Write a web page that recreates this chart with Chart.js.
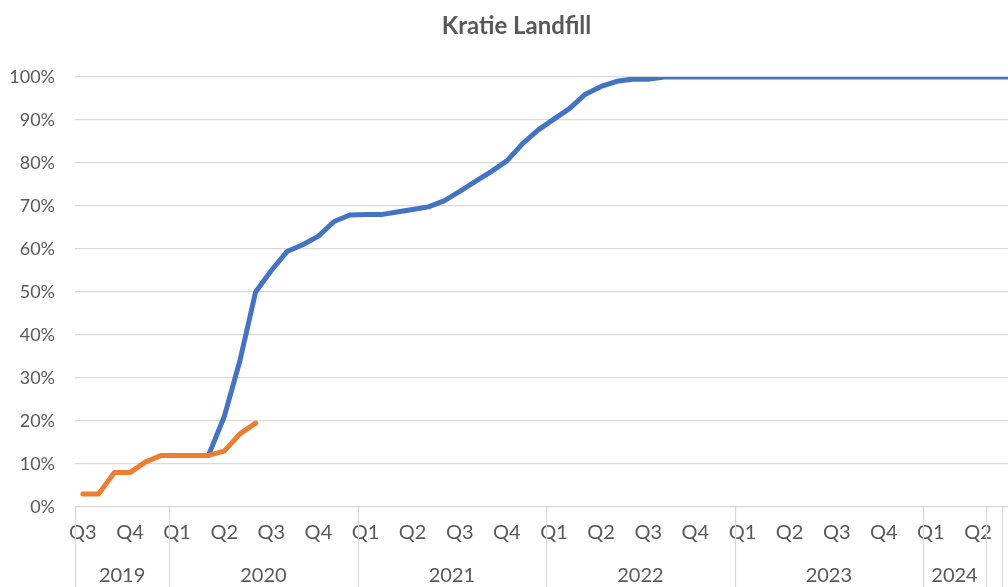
<!DOCTYPE html>
<html>
<head>
<meta charset="utf-8">
<script src="https://cdn.jsdelivr.net/npm/chart.js@4/dist/chart.umd.min.js"></script>
<style>
  html, body { margin: 0; padding: 0; background: #ffffff; overflow: hidden; }
  #wrap { position: relative; width: 1040px; height: 587px; }
</style>
</head>
<body>
<div id="wrap"><canvas id="c"></canvas></div>
<script>
// Monthly categories (Jul 2019 - Jul 2024)
const months = [
  'Jul 2019','Aug 2019','Sep 2019','Oct 2019','Nov 2019','Dec 2019',
  'Jan 2020','Feb 2020','Mar 2020','Apr 2020','May 2020','Jun 2020','Jul 2020','Aug 2020','Sep 2020','Oct 2020','Nov 2020','Dec 2020',
  'Jan 2021','Feb 2021','Mar 2021','Apr 2021','May 2021','Jun 2021','Jul 2021','Aug 2021','Sep 2021','Oct 2021','Nov 2021','Dec 2021',
  'Jan 2022','Feb 2022','Mar 2022','Apr 2022','May 2022','Jun 2022','Jul 2022','Aug 2022','Sep 2022','Oct 2022','Nov 2022','Dec 2022',
  'Jan 2023','Feb 2023','Mar 2023','Apr 2023','May 2023','Jun 2023','Jul 2023','Aug 2023','Sep 2023','Oct 2023','Nov 2023','Dec 2023',
  'Jan 2024','Feb 2024','Mar 2024','Apr 2024','May 2024','Jun 2024','Jul 2024'
];

// Quarter tick labels, one per month (shown at the first month of each quarter)
const quarterLabels = [
  'Q3','','','Q4','','',
  'Q1','','','Q2','','','Q3','','','Q4','','',
  'Q1','','','Q2','','','Q3','','','Q4','','',
  'Q1','','','Q2','','','Q3','','','Q4','','',
  'Q1','','','Q2','','','Q3','','','Q4','','',
  'Q1','','','Q2','','',''
];

// Outer-level (year) groups of the category axis
const yearGroupLabels = ['2019','2020','2021','2022','2023','2024','',''];
const yearGroupSizes  = [6, 12, 12, 12, 12, 4, 1, 2];

// Series values (%)
const actual = [
  null,null,null,null,null,null,null,null,
  12, 21, 34, 50, 55, 59.4, 61, 63, 66.4, 67.9, 68, 68,
  68.6, 69.2, 69.8, 71.2, 73.4, 75.7, 78, 80.5, 84.5, 87.7,
  90.2, 92.7, 96, 97.8, 99, 99.5, 99.5, 100, 100, 100,
  100, 100, 100, 100, 100, 100, 100, 100, 100, 100,
  100, 100, 100, 100, 100, 100, 100, 100, 100, 100, 100
];
const early = [3, 3, 8, 8, 10.5, 12, 12, 12, 12, 13, 17, 19.5];

const FONT = 'Lato, "Open Sans", sans-serif';
const TXT = '#595959';
const GRID = '#d9d9d9';

const yearGroupPlugin = {
  id: 'yearGroups',
  afterDraw(chart) {
    const { ctx, chartArea, scales: { x } } = chart;
    const step = x.getPixelForValue(1) - x.getPixelForValue(0);
    const edge = i => x.getPixelForValue(0) + (i - 0.5) * step;
    const yTop = chartArea.bottom;
    const yBot = chart.height;
    ctx.save();
    ctx.strokeStyle = GRID;
    ctx.lineWidth = 1.3;
    const vline = px => {
      ctx.beginPath();
      ctx.moveTo(Math.round(px) + 0.5, yTop);
      ctx.lineTo(Math.round(px) + 0.5, yBot);
      ctx.stroke();
    };
    vline(edge(0));
    ctx.fillStyle = TXT;
    ctx.font = '20px ' + FONT;
    ctx.textAlign = 'center';
    ctx.textBaseline = 'middle';
    let start = 0;
    yearGroupSizes.forEach((n, g) => {
      const end = start + n;
      vline(edge(end));
      if (yearGroupLabels[g]) {
        ctx.fillText(yearGroupLabels[g], (edge(start) + edge(end)) / 2, 576);
      }
      start = end;
    });
    ctx.restore();
  }
};

new Chart(document.getElementById('c'), {
  type: 'line',
  data: {
    labels: months,
    datasets: [
      {
        label: 'Early',
        data: early,
        borderColor: '#ed7d31',
        backgroundColor: '#ed7d31',
        borderWidth: 5,
        pointRadius: 0,
        borderCapStyle: 'round',
        borderJoinStyle: 'round',
        tension: 0,
        order: 0
      },
      {
        label: 'Actual',
        data: actual,
        borderColor: '#4472c4',
        backgroundColor: '#4472c4',
        borderWidth: 5,
        pointRadius: 0,
        borderCapStyle: 'round',
        borderJoinStyle: 'round',
        tension: 0,
        order: 1
      }
    ]
  },
  options: {
    responsive: true,
    maintainAspectRatio: false,
    animation: false,
    layout: { padding: { left: 0, right: 7, top: 0, bottom: 0 } },
    plugins: {
      legend: { display: false },
      tooltip: { enabled: false },
      title: {
        display: true,
        text: 'Kratie Landfill',
        color: TXT,
        font: { family: FONT, size: 24, weight: 'bold', lineHeight: 1.2 },
        padding: { top: 12, bottom: 36.2 }
      }
    },
    scales: {
      x: {
        offset: true,
        grid: { display: false, drawTicks: false },
        border: { display: false },
        ticks: {
          autoSkip: false,
          maxRotation: 0,
          minRotation: 0,
          padding: 14,
          color: TXT,
          font: { family: FONT, size: 20 },
          callback: (v, i) => quarterLabels[i]
        },
        afterFit: s => { s.height = 80; }
      },
      y: {
        min: 0,
        max: 100,
        grid: { color: GRID, lineWidth: 1.3, drawTicks: false },
        border: { display: false },
        ticks: {
          stepSize: 10,
          padding: 20,
          color: TXT,
          font: { family: FONT, size: 18 },
          callback: v => v + '%'
        },
        afterFit: s => { s.width = 75; }
      }
    }
  },
  plugins: [yearGroupPlugin]
});
</script>
</body>
</html>
